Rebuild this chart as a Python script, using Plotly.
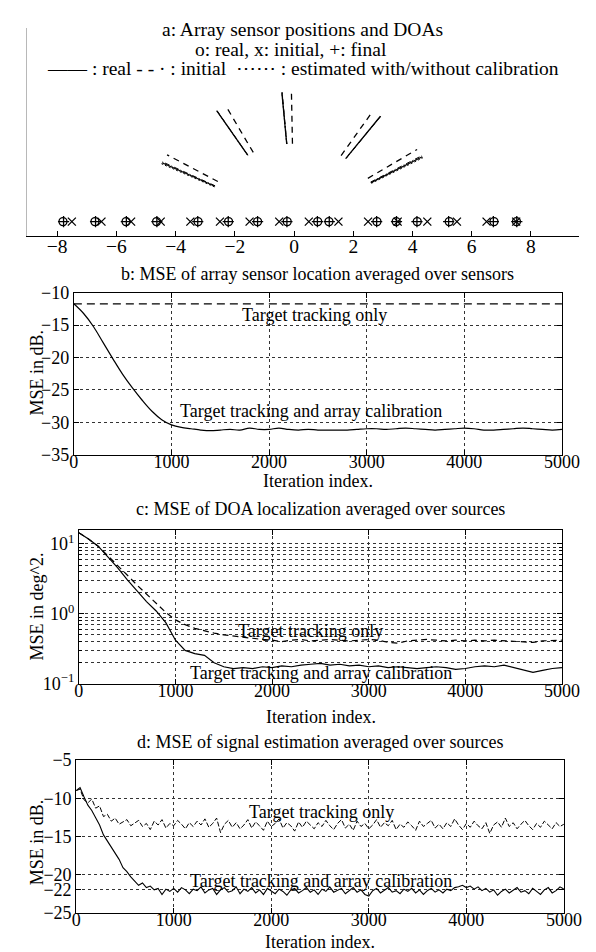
import numpy as np
import plotly.graph_objects as go

W, H = 596, 952
FONT = "Liberation Serif"
FS = 18
FSA = 19.5

# ---------------- Panel a data ----------------
sensor_real = [-7.80, -6.72, -5.67, -4.64, -3.24, -2.21, -1.23, -0.23,
               0.80, 1.18, 2.80, 3.45, 4.16, 5.24, 6.75, 7.51]
sensor_initial = [-7.5, -6.5, -5.5, -4.5, -3.5, -2.5, -1.5, -0.5,
                  0.5, 1.5, 2.5, 3.5, 4.5, 5.5, 6.5, 7.5]
sensor_final = [-7.78, -6.70, -5.66, -4.63, -3.25, -2.22, -1.23, -0.24,
                0.79, 1.19, 2.79, 3.46, 4.15, 5.22, 6.73, 7.52]
doa_real = [-63.0, -31.4, -4.7, 35.7, 60.0]
doa_initial = [-59.0, -27.3, -1.0, 32.0, 56.2]
doa_est_cal = [-63.5, -31.4, -4.7, 35.7, 60.5]
doa_est_nocal = [-62.6, -31.3, -4.6, 35.8, 59.5]
doa_radius = [3.0, 5.0]
a_xticks = [-8, -6, -4, -2, 0, 2, 4, 6, 8]

# ---------------- Panel b data (every 100 iterations) ----------------
b_calib = [-11.7, -13.2, -15.2, -17.7, -20.2, -22.6, -24.7, -26.6, -28.3, -29.6,
           -30.4, -30.8, -31.0, -31.2, -31.3, -31.2, -31.1, -31.2, -30.9, -31.1,
           -31.1, -30.9, -31.1, -31.2, -31.1, -31.2, -31.2, -31.2, -31.2, -31.1,
           -31.0, -31.0, -31.1, -31.0, -30.9, -31.0, -31.1, -31.2, -31.1, -31.0,
           -30.9, -31.0, -31.2, -31.2, -31.1, -31.0, -30.9, -31.0, -31.1, -31.2,
           -31.1]
b_track = [-11.7, -11.7]

# ---------------- Panel c data (every 100 iterations) ----------------
c_calib = [14.5, 11.8, 9.3, 6.6, 4.6, 3.1, 2.15, 1.5, 1.1, 0.75,
           0.42, 0.30, 0.27, 0.255, 0.20, 0.175, 0.165, 0.17, 0.165, 0.175,
           0.17, 0.18, 0.175, 0.185, 0.19, 0.195, 0.185, 0.19, 0.18, 0.185,
           0.175, 0.18, 0.17, 0.175, 0.17, 0.165, 0.17, 0.175, 0.17, 0.16,
           0.165, 0.175, 0.18, 0.175, 0.185, 0.17, 0.16, 0.145, 0.155, 0.165,
           0.17]
c_track = [14.5, 11.8, 9.3, 6.7, 4.9, 3.6, 2.6, 1.9, 1.4, 1.05,
           0.82, 0.70, 0.62, 0.57, 0.53, 0.50, 0.48, 0.46, 0.44, 0.43,
           0.42, 0.40, 0.42, 0.43, 0.41, 0.42, 0.43, 0.42, 0.41, 0.42,
           0.43, 0.42, 0.39, 0.38, 0.41, 0.42, 0.43, 0.42, 0.41, 0.42,
           0.41, 0.42, 0.41, 0.42, 0.41, 0.41, 0.40, 0.39, 0.41, 0.42,
           0.42]
c_ytickvals = [0.1, 1, 10]
c_yticktext = ["10<sup>−1</sup>", "10<sup>0</sup>", "10<sup>1</sup>"]

# ---------------- Panel d data (every 40 iterations) ----------------
d_calib = [-9.0, -8.6, -9.8, -10.9, -11.6, -12.6, -13.5, -14.8, -15.6, -16.5,
           -17.2, -18.0, -19.1, -19.6, -20.3, -20.9, -21.4, -21.1, -21.7, -21.5,
           -22.0, -21.8, -22.6, -21.9, -22.2, -21.8, -22.3, -21.7, -22.0, -22.5,
           -21.9, -22.1, -21.6, -22.4, -22.0, -21.8, -22.6, -22.0, -21.7, -22.3,
           -22.1, -21.6, -22.5, -21.9, -22.2, -21.7, -22.4, -22.0, -22.6, -21.8,
           -22.1, -22.5, -21.9, -22.2, -22.7, -22.0, -21.8, -22.4, -22.1, -21.7,
           -22.3, -22.0, -22.6, -21.9, -22.2, -21.6, -22.3, -22.0, -21.8, -22.5,
           -22.1, -21.7, -22.3, -22.0, -22.6, -22.8, -22.1, -21.8, -22.4, -22.0,
           -21.7, -22.3, -22.1, -22.5, -21.9, -22.2, -21.8, -22.4, -22.0, -22.6,
           -22.1, -21.8, -22.3, -22.0, -22.4, -21.9, -22.1, -21.7, -21.6, -21.4,
           -21.7, -21.5, -21.9, -21.6, -22.1, -21.8, -22.3, -22.0, -22.7, -22.2,
           -21.9, -22.4, -22.0, -21.7, -22.3, -22.1, -22.5, -21.8, -22.2, -22.6,
           -22.0, -21.7, -22.4, -22.1, -21.6, -21.9]
d_track = [-9.0, -8.8, -10.2, -10.6, -10.1, -11.3, -11.0, -12.4, -12.1, -13.0,
           -12.6, -13.4, -13.1, -12.8, -13.6, -13.2, -12.9, -13.7, -13.3, -14.1,
           -13.0, -13.5, -12.8, -13.9, -13.3, -13.6, -12.9, -13.4, -14.0, -13.2,
           -13.7, -13.0, -13.5, -12.7, -13.8, -13.3, -12.6, -14.5, -13.4, -12.9,
           -13.8, -13.2, -14.0, -13.5, -12.8, -13.9, -13.1, -13.6, -14.2, -13.0,
           -13.7, -13.3, -12.7, -13.9, -13.2, -13.6, -14.3, -13.1, -13.8, -13.0,
           -13.5, -14.0, -13.2, -13.7, -12.9, -13.6, -14.1, -13.3, -12.8, -13.9,
           -13.4, -14.2, -13.0, -13.7, -13.3, -14.0, -13.5, -12.8, -13.8, -13.2,
           -13.6, -12.9, -14.1, -13.4, -13.8, -13.1, -13.6, -14.2, -13.0, -13.7,
           -13.3, -12.9, -13.9, -13.4, -14.0, -13.2, -13.7, -12.7, -13.5, -14.1,
           -13.3, -13.8, -13.0, -13.6, -14.0, -13.2, -14.6, -13.5, -13.1, -13.8,
           -12.6, -13.7, -13.2, -14.0, -13.4, -12.9, -13.6, -14.1, -13.3, -13.8,
           -13.0, -13.5, -14.0, -13.2, -13.7, -13.4]
d_ytickvals = [-25, -22, -20, -15, -10, -5]

iter_ticks = [0, 1000, 2000, 3000, 4000, 5000]
N_ITER = 5000


def px(x):
    return x / W


def py(y):
    return 1 - y / H


def seg(angles, r):
    xs, ys = [], []
    for a in angles:
        t = np.deg2rad(a)
        xs += [r[0] * np.sin(t), r[1] * np.sin(t), None]
        ys += [r[0] * np.cos(t), r[1] * np.cos(t), None]
    return xs, ys


fig = go.Figure()
blk = "black"

# Panel a traces
for ang, dash, w in [(doa_real, "solid", 1.3), (doa_initial, "6px,5px", 1.3),
                     (doa_est_cal, "2px,2px", 1.0), (doa_est_nocal, "5px,2px,1px,2px", 1.0)]:
    xs, ys = seg(ang, doa_radius)
    fig.add_trace(go.Scatter(x=xs, y=ys, mode="lines", line=dict(color=blk, width=w, dash=dash),
                             xaxis="x", yaxis="y", showlegend=False))
zeros = [0] * len(sensor_real)
fig.add_trace(go.Scatter(x=sensor_real, y=zeros, mode="markers",
                         marker=dict(symbol="circle-open", size=8, color=blk, line=dict(width=1.3)),
                         xaxis="x", yaxis="y", showlegend=False))
fig.add_trace(go.Scatter(x=sensor_initial, y=zeros, mode="markers",
                         marker=dict(symbol="x-thin-open", size=8, color=blk, line=dict(width=1.3, color=blk)),
                         xaxis="x", yaxis="y", showlegend=False))
fig.add_trace(go.Scatter(x=sensor_final, y=zeros, mode="markers",
                         marker=dict(symbol="cross-thin-open", size=8, color=blk, line=dict(width=1.3, color=blk)),
                         xaxis="x", yaxis="y", showlegend=False))

# Panel b
bx = np.linspace(0, N_ITER, len(b_calib))
fig.add_trace(go.Scatter(x=[0, N_ITER], y=b_track, mode="lines",
                         line=dict(color=blk, width=1.2, dash="8px,5px"), xaxis="x2", yaxis="y2", showlegend=False))
fig.add_trace(go.Scatter(x=bx, y=b_calib, mode="lines", line=dict(color=blk, width=1.2, shape="spline"),
                         xaxis="x2", yaxis="y2", showlegend=False))

# Panel c
cx = np.linspace(0, N_ITER, len(c_calib))
fig.add_trace(go.Scatter(x=cx, y=c_track, mode="lines", line=dict(color=blk, width=1.2, dash="6px,4px"),
                         xaxis="x3", yaxis="y3", showlegend=False))
fig.add_trace(go.Scatter(x=cx, y=c_calib, mode="lines", line=dict(color=blk, width=1.2),
                         xaxis="x3", yaxis="y3", showlegend=False))

# Panel d
dx = np.linspace(0, N_ITER, len(d_calib))
fig.add_trace(go.Scatter(x=dx, y=d_track, mode="lines", line=dict(color=blk, width=1.0, dash="5px,2px"),
                         xaxis="x4", yaxis="y4", showlegend=False))
fig.add_trace(go.Scatter(x=dx, y=d_calib, mode="lines", line=dict(color=blk, width=1.1),
                         xaxis="x4", yaxis="y4", showlegend=False))

tickfont = dict(family=FONT, size=FS, color=blk)
grid = dict(showgrid=True, gridcolor="#333", gridwidth=0.7, griddash="dot")
box = dict(showline=True, linecolor=blk, linewidth=1, mirror="ticks", ticks="inside",
           ticklen=5, tickcolor=blk, tickfont=tickfont, zeroline=False)
xbox = dict(box, ticklabelstandoff=-9)

layout = dict(
    width=W, height=H, margin=dict(l=0, r=0, t=0, b=0),
    paper_bgcolor="white", plot_bgcolor="white", showlegend=False,
    font=dict(family=FONT, size=FS, color=blk),
    xaxis=dict(domain=[px(15), px(589)], range=[-9.0, 9.63], anchor="y",
               showline=True, linecolor=blk, linewidth=1, ticks="inside", ticklen=5, tickcolor=blk,
               tickvals=a_xticks, tickfont=dict(family=FONT, size=FSA, color=blk),
               showgrid=False, zeroline=False, ticklabelstandoff=-7),
    yaxis=dict(domain=[py(222.7), py(10)], range=[-0.555, 7.47], anchor="x",
               showline=True, linecolor="#b8b8b8", linewidth=1, showticklabels=False,
               ticks="", showgrid=False, zeroline=False),
    xaxis2=dict(domain=[px(63.3), px(571)], range=[0, N_ITER], anchor="y2", tickvals=iter_ticks, **xbox, **grid),
    yaxis2=dict(domain=[py(446), py(280.7)], range=[-35, -10], anchor="x2", dtick=5, **box, **grid),
    xaxis3=dict(domain=[px(68.5), px(571)], range=[0, N_ITER], anchor="y3", tickvals=iter_ticks, **xbox, **grid),
    yaxis3=dict(domain=[py(680), py(523.3)], type="log", range=[-1, 1.196], anchor="x3",
                tickvals=c_ytickvals, ticktext=c_yticktext, **box, **grid,
                minor=dict(dtick="D1", showgrid=True, gridcolor="#333", gridwidth=0.7, griddash="dot",
                           ticks="inside", ticklen=3, tickcolor=blk)),
    xaxis4=dict(domain=[px(65.7), px(573)], range=[0, N_ITER], anchor="y4", tickvals=iter_ticks, **xbox, **grid),
    yaxis4=dict(domain=[py(914), py(758)], range=[-25, -5], anchor="x4", tickvals=d_ytickvals, **box, **grid),
)
fig.update_layout(**layout)

ann = []


def txt(x, y, s, angle=0, xref="paper", yref="paper", size=FS):
    ann.append(dict(x=x, y=y, xref=xref, yref=yref, text=s, showarrow=False, textangle=angle,
                    font=dict(family=FONT, size=size, color=blk), xanchor="center", yanchor="middle"))


txt(px(301), py(12), "a: Array sensor positions and DOAs", size=FSA)
txt(px(289), py(32), "o: real, x: initial, +: final", size=FSA)
txt(px(302), py(52), "—— : real - - · : initial  ⋯⋯ : estimated with/without calibration", size=FSA)
txt(px(317), py(262), "b: MSE of array sensor location averaged over sensors")
txt(px(317), py(473), "Iteration index.")
txt(px(320), py(502), "c: MSE of DOA localization averaged over sources")
txt(px(320), py(714), "Iteration index.")
txt(px(319), py(740), "d: MSE of signal estimation averaged over sources")
txt(px(319), py(944), "Iteration index.")
txt(px(25), py(362), "MSE in dB.", angle=-90)
txt(px(25), py(601), "MSE in deg^2.", angle=-90)
txt(px(25), py(842), "MSE in dB.", angle=-90)

# in-plot labels (data coordinates)
txt(2470, -13.4, "Target tracking only", xref="x2", yref="y2")
txt(2430, -28.3, "Target tracking and array calibration", xref="x2", yref="y2")
txt(2400, np.log10(0.57), "Target tracking only", xref="x3", yref="y3")
txt(2510, np.log10(0.142), "Target tracking and array calibration", xref="x3", yref="y3")
txt(2510, -11.8, "Target tracking only", xref="x4", yref="y4")
txt(2510, -20.8, "Target tracking and array calibration", xref="x4", yref="y4")

fig.update_layout(annotations=ann)
fig.write_html("out.html")
